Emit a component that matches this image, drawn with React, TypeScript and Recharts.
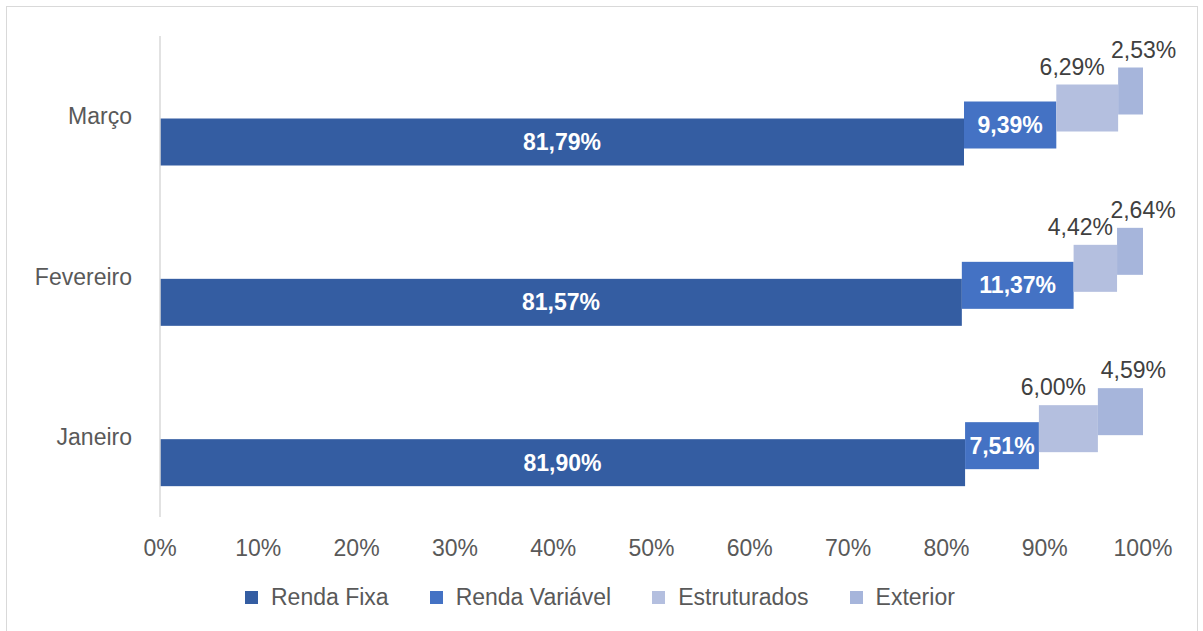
import React from "react";
import { BarChart, Bar, XAxis, YAxis, LabelList } from "recharts";

const categories = ["Março", "Fevereiro", "Janeiro"];
const rendaFixa = [81.79, 81.57, 81.9];
const rendaVariavel = [9.39, 11.37, 7.51];
const estruturados = [6.29, 4.42, 6.0];
const exterior = [2.53, 2.64, 4.59];
const xTicks = [0, 10, 20, 30, 40, 50, 60, 70, 80, 90, 100];

const seriesList = [
  { key: "rf", name: "Renda Fixa", color: "#345DA2", shift: 25.5, inside: true, dx: 0 },
  { key: "rv", name: "Renda Variável", color: "#4472C4", shift: 8.5, inside: true, dx: 0 },
  { key: "es", name: "Estruturados", color: "#B4BFDF", shift: -8.5, inside: false, dx: -15 },
  { key: "ex", name: "Exterior", color: "#A6B5DB", shift: -25.5, inside: false, dx: 13 },
];

const data = categories.map((name, i) => ({
  name,
  rf: rendaFixa[i],
  rv: rendaVariavel[i],
  es: estruturados[i],
  ex: exterior[i],
}));

const fmt = (v: number) => v.toFixed(2).replace(".", ",") + "%";
const FONT = "'Liberation Sans', Arial, sans-serif";

const makeShape = (shift: number, color: string) => (props: any) => {
  const { x, y, width, height } = props;
  if (width == null || height == null) return null;
  return <rect x={x} y={y + shift} width={width} height={height} fill={color} />;
};

const makeLabel = (shift: number, inside: boolean, dx: number) => (props: any) => {
  const { x, y, width, height, value } = props;
  const cx = x + width / 2;
  if (inside) {
    return (
      <text
        x={cx}
        y={y + shift + height / 2}
        textAnchor="middle"
        dominantBaseline="central"
        fill="#FFFFFF"
        fontWeight="bold"
        fontSize={23}
        fontFamily={FONT}
      >
        {fmt(value)}
      </text>
    );
  }
  return (
    <text
      x={cx + dx}
      y={y + shift - 18}
      textAnchor="middle"
      dominantBaseline="central"
      fill="#404040"
      fontSize={23}
      fontFamily={FONT}
    >
      {fmt(value)}
    </text>
  );
};

export default function App() {
  return (
    <div
      style={{
        position: "absolute",
        left: 0,
        top: 0,
        width: 1203,
        height: 631,
        overflow: "hidden",
        background: "#fff",
        fontFamily: FONT,
      }}
    >
      <div
        style={{
          position: "absolute",
          left: 6,
          top: 6,
          width: 1192,
          height: 660,
          border: "1px solid #D9D9D9",
          boxSizing: "border-box",
        }}
      />
      <div style={{ position: "absolute", left: 0, top: 0 }}>
        <BarChart
          width={1203}
          height={631}
          data={data}
          layout="vertical"
          margin={{ top: 36, right: 60, bottom: 84, left: 0 }}
          barSize={47}
        >
          <XAxis
            type="number"
            domain={[0, 100]}
            ticks={xTicks}
            tickFormatter={(v: number) => `${v}%`}
            axisLine={false}
            tickLine={false}
            tickSize={0}
            tickMargin={23}
            height={30}
            interval={0}
            tick={{ fill: "#595959", fontSize: 23, fontFamily: FONT }}
          />
          <YAxis
            type="category"
            dataKey="name"
            width={160}
            axisLine={{ stroke: "#D9D9D9", strokeWidth: 1.5 }}
            tickLine={false}
            tickSize={0}
            tickMargin={28}
            tick={{ fill: "#595959", fontSize: 23, fontFamily: FONT }}
          />
          {seriesList.map((s) => (
            <Bar
              key={s.key}
              dataKey={s.key}
              name={s.name}
              stackId="a"
              fill={s.color}
              isAnimationActive={false}
              shape={makeShape(s.shift, s.color)}
            >
              <LabelList dataKey={s.key} content={makeLabel(s.shift, s.inside, s.dx)} />
            </Bar>
          ))}
        </BarChart>
      </div>
      <div
        style={{
          position: "absolute",
          left: 245,
          top: 584,
          height: 26,
          display: "flex",
          alignItems: "center",
          gap: 41,
        }}
      >
        {seriesList.map((s) => (
          <div key={s.key} style={{ display: "flex", alignItems: "center" }}>
            <div style={{ width: 13, height: 13, background: s.color, marginRight: 13 }} />
            <span style={{ fontSize: 23, color: "#595959", lineHeight: "26px", whiteSpace: "nowrap" }}>
              {s.name}
            </span>
          </div>
        ))}
      </div>
    </div>
  );
}
